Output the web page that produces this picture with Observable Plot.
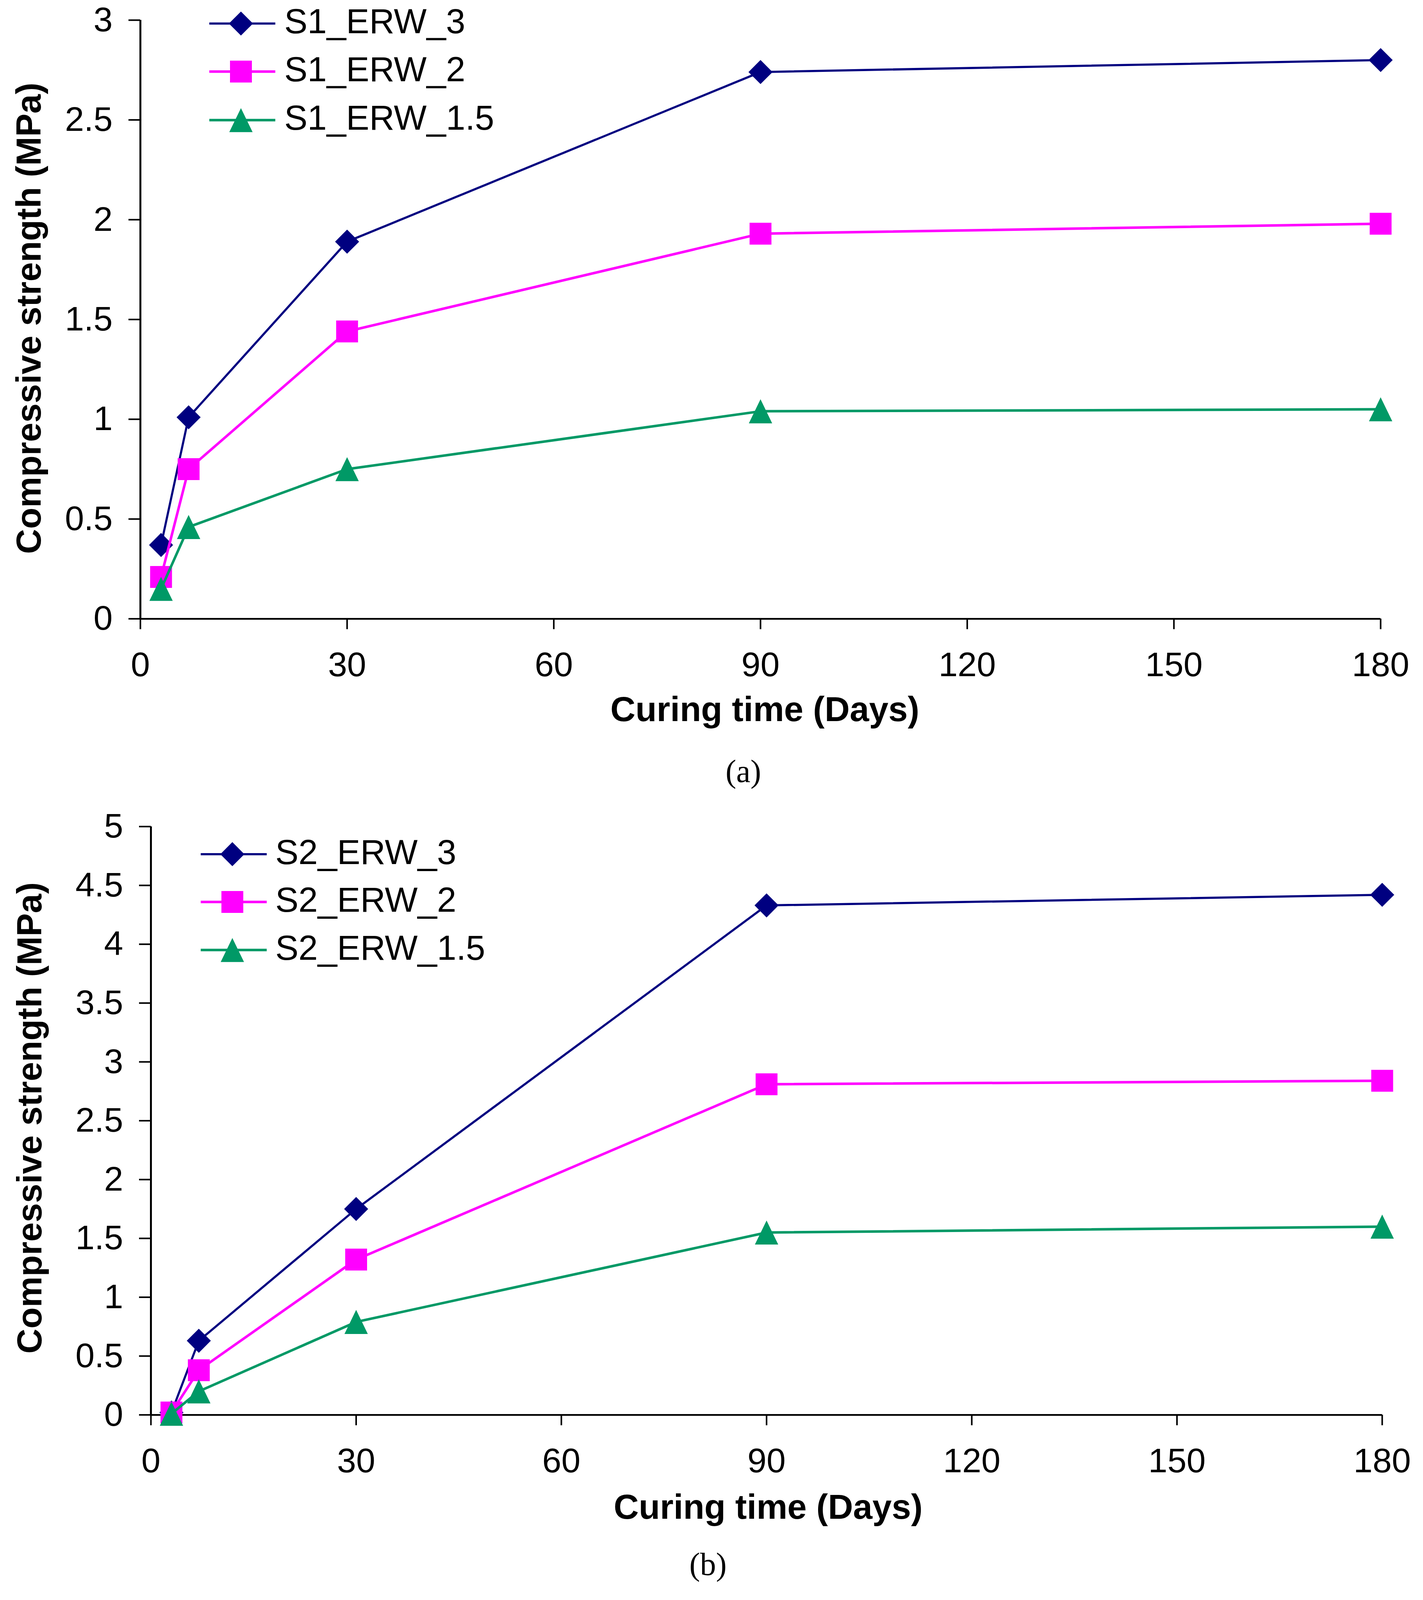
<!DOCTYPE html>
<html>
<head>
<meta charset="utf-8">
<script src="https://cdn.jsdelivr.net/npm/d3@7"></script>
<script src="https://cdn.jsdelivr.net/npm/@observablehq/plot@0.6"></script>
<style>
  html, body { margin: 0; padding: 0; background: #fff; }
  #root { position: relative; width: 3644px; height: 4096px; overflow: hidden; background: #fff; }
  #root > svg { position: absolute; left: 0; }
</style>
</head>
<body>
<div id="root"></div>
<script>
// ---------- data ----------
const days = [3, 7, 30, 90, 180];
const xTicks = [0, 30, 60, 90, 120, 150, 180];
const yTicksA = [0, 0.5, 1, 1.5, 2, 2.5, 3];
const yTicksB = [0, 0.5, 1, 1.5, 2, 2.5, 3, 3.5, 4, 4.5, 5];

const seriesA = ["S1_ERW_3", "S1_ERW_2", "S1_ERW_1.5"];
const s1_erw_3   = [0.37, 1.01, 1.89, 2.74, 2.80];
const s1_erw_2   = [0.21, 0.75, 1.44, 1.93, 1.98];
const s1_erw_1_5 = [0.15, 0.46, 0.75, 1.04, 1.05];

const seriesB = ["S2_ERW_3", "S2_ERW_2", "S2_ERW_1.5"];
const s2_erw_3   = [0.02, 0.63, 1.75, 4.33, 4.42];
const s2_erw_2   = [0.02, 0.38, 1.32, 2.81, 2.84];
const s2_erw_1_5 = [0.01, 0.20, 0.79, 1.55, 1.60];

const xTitle = "Curing time (Days)";
const yTitle = "Compressive strength (MPa)";
const captions = ["(a)", "(b)"];

// ---------- layout (the visible viewport is 4096 px tall, so vertical positions are compressed) ----------
const K = 4096 / 4490;
const colors = ["#000080", "#FF00FF", "#009966"];
const widths = [5.5, 6.5, 6.5];
const symDiamond = {draw(ctx, size) { const r = Math.sqrt(size / Math.PI) * 1.1; ctx.moveTo(0, -r); ctx.lineTo(r, 0); ctx.lineTo(0, r); ctx.lineTo(-r, 0); ctx.closePath(); }};
const symSquare = {draw(ctx, size) { const r = Math.sqrt(size / Math.PI); ctx.moveTo(-r, -r); ctx.lineTo(r, -r); ctx.lineTo(r, r); ctx.lineTo(-r, r); ctx.closePath(); }};
const symTriangle = {draw(ctx, size) { const r = Math.sqrt(size / Math.PI) * 1.1; ctx.moveTo(0, -r); ctx.lineTo(r * 0.97, r); ctx.lineTo(-r * 0.97, r); ctx.closePath(); }};
const symbols = [symDiamond, symSquare, symTriangle];

const SANS = "'Liberation Sans', Arial, sans-serif";
const SERIF = "'Liberation Serif', 'Times New Roman', serif";
const FS = 88;

function rows(names, arrays) {
  const out = [];
  names.forEach((n, si) => arrays[si].forEach((v, i) => out.push({series: n, si, day: days[i], value: v})));
  return out;
}

function panel(cfg) {
  const data = rows(cfg.names, cfg.arrays);
  const marks = [
    Plot.axisX({ticks: xTicks, tickSize: 27, tickPadding: 57, strokeWidth: 4, fontSize: FS, label: null}),
    Plot.axisY({ticks: cfg.yTicks, tickSize: 30, tickPadding: 41, strokeWidth: 4, fontSize: FS, tickFormat: d => String(d), label: null}),
    Plot.ruleX([0], {strokeWidth: 5}),
    Plot.ruleY([0], {strokeWidth: 4.5})
  ];
  cfg.names.forEach((n, si) => {
    const d = data.filter(r => r.si === si);
    marks.push(Plot.line(d, {x: "day", y: "value", stroke: colors[si], strokeWidth: widths[si]}));
    marks.push(Plot.dot(d, {x: "day", y: "value", r: 28, symbol: symbols[si], fill: colors[si], stroke: "none"}));
  });
  marks.push(Plot.text([xTitle], {text: d => d, frameAnchor: "bottom", dx: cfg.xTitleDx, dy: cfg.xTitleDy, lineAnchor: "bottom", fontWeight: "bold", fontSize: 89}));
  marks.push(Plot.text([yTitle], {text: d => d, frameAnchor: "left", rotate: -90, dx: cfg.yTitleDx, dy: cfg.yTitleDy, lineAnchor: "top", textAnchor: "middle", fontWeight: "bold", fontSize: 89}));
  marks.push(Plot.text([cfg.caption], {text: d => d, frameAnchor: "bottom", dx: cfg.capDx, dy: cfg.capDy, lineAnchor: "bottom", fontFamily: SERIF, fontSize: 82}));
  const frameBottom = cfg.frameBottom - cfg.top;
  const svg = Plot.plot({
    width: 3644,
    height: cfg.height,
    marginLeft: cfg.ml, marginRight: cfg.mr,
    marginTop: cfg.frameTop - cfg.top, marginBottom: cfg.height - frameBottom,
    x: {domain: [0, 180]},
    y: {domain: cfg.yDomain},
    style: {fontFamily: SANS, fontSize: FS + "px", color: "black", background: "white"},
    marks
  });
  svg.style.top = cfg.top + "px";
  return svg;
}

const root = document.getElementById("root");
const splitY = 2060;
const aTop = 56 * K, aBottom = 1736 * K;
const bTop = 2319 * K, bBottom = 3970 * K;
root.appendChild(panel({
  names: seriesA, arrays: [s1_erw_3, s1_erw_2, s1_erw_1_5], yTicks: yTicksA, yDomain: [0, 3],
  top: 0, height: splitY, ml: 359, mr: 109, frameTop: aTop, frameBottom: aBottom,
  xTitleDx: 11, xTitleDy: 2023 * K - aBottom, yTitleDx: -319, yTitleDy: -3,
  caption: captions[0], capDx: -44, capDy: 2194 * K - aBottom
}));
root.appendChild(panel({
  names: seriesB, arrays: [s2_erw_3, s2_erw_2, s2_erw_1_5], yTicks: yTicksB, yDomain: [0, 5],
  top: splitY, height: 4096 - splitY, ml: 386, mr: 105, frameTop: bTop, frameBottom: bBottom,
  xTitleDx: 4, xTitleDy: 4261 * K - bBottom, yTitleDx: -344, yTitleDy: -7,
  caption: captions[1], capDx: -150, capDy: 4419 * K - bBottom
}));

// ---------- legends (overlay) ----------
const overlay = d3.select(root).append("svg")
  .attr("width", 3644).attr("height", 4096)
  .style("position", "absolute").style("left", "0px").style("top", "0px")
  .style("pointer-events", "none");

function legend(names, lineX0, lineX1, markX, textX, rowYs) {
  names.forEach((n, i) => {
    const y = rowYs[i] * K;
    const g = overlay.append("g");
    g.append("line").attr("x1", lineX0).attr("x2", lineX1).attr("y1", y).attr("y2", y)
      .attr("stroke", colors[i]).attr("stroke-width", widths[i]);
    g.append("path").attr("d", d3.symbol(symbols[i], 28 * 28 * Math.PI)())
      .attr("transform", `translate(${markX},${y})`).attr("fill", colors[i]);
    g.append("text").attr("x", textX).attr("y", y + 25)
      .attr("font-family", SANS).attr("font-size", 89).attr("fill", "black").text(n);
  });
}
legend(seriesA, 536, 705, 617, 728, [66, 201, 337]);
legend(seriesB, 514, 683, 595, 705, [2397, 2531, 2666]);
</script>
</body>
</html>
